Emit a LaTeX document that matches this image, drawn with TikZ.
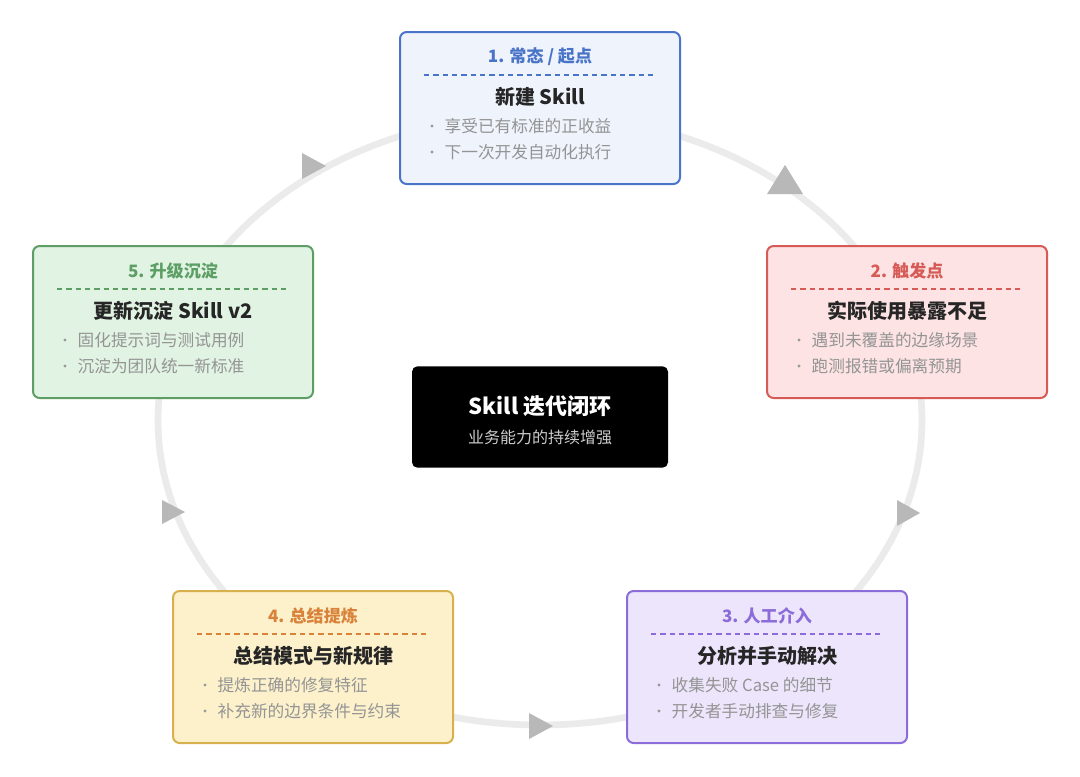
\documentclass[tikz,border=0pt]{standalone}
\usepackage{fontspec}
\setmainfont{Noto Sans CJK SC}
\definecolor{bB}{HTML}{4A74C8}\definecolor{fB}{HTML}{EEF3FC}
\definecolor{bR}{HTML}{D65A56}\definecolor{fR}{HTML}{FDE3E3}
\definecolor{bP}{HTML}{8B6CD9}\definecolor{fP}{HTML}{ECE5FB}
\definecolor{bY}{HTML}{D8B04E}\definecolor{fY}{HTML}{FDF1CC}\definecolor{hY}{HTML}{D9823A}
\definecolor{bG}{HTML}{5C9E64}\definecolor{fG}{HTML}{E1F3E3}
\begin{document}
\begin{tikzpicture}[x=0.75pt,y=-0.75pt,
  box/.style={draw=#1,line width=1.5pt,rounded corners=5pt,minimum width=210pt,minimum height=114pt,inner sep=0},
  hdr/.style={font=\fontsize{12.8}{14}\selectfont\bfseries,text=#1},
  ttl/.style={font=\fontsize{15}{17}\selectfont\bfseries,text=black!85},
  bul/.style={font=\fontsize{12.5}{14}\selectfont,text=black!42,anchor=west},
  tri/.style={fill=black!28,draw=none}]
\useasboundingbox (0,0) rectangle (1080,776);
\fill[white] (0,0) rectangle (1080,776);
\draw[black!8,line width=5pt] (540,420) ellipse [x radius=382,y radius=305];
% arrows
\fill[tri] (302,153) -- (326,166) -- (302,179) -- cycle;
\fill[tri] (767,194) -- (785,165) -- (803,194) -- cycle;
\fill[tri] (897,500) -- (920,513) -- (897,526) -- cycle;
\fill[tri] (529,713) -- (553,726) -- (529,739) -- cycle;
\fill[tri] (162,500) -- (185,512) -- (162,524) -- cycle;
\newcommand\stage[9]{%
  \node[box=#3,fill=#4] (#9) at (#1+141,#2+76) {};
  \node[hdr=#5] (#9h) at (#1+141,#2+25) {#6};
  \draw[#5,line width=0.8pt,dash pattern=on 4pt off 3pt] (#1+25,#2+43) -- (#1+257,#2+43);
  \node[ttl] (#9t) at (#1+141,#2+65) {#7};
  \foreach \t [count=\i] in {#8} {
    \fill[black!40] (#1+33,#2+68+26*\i) circle (1.6);
    \node[bul] at (#1+41,#2+68+26*\i) {\t};
  }}
\stage{399}{32}{bB}{fB}{bB}{1. 常态 / 起点}{新建 Skill}{享受已有标准的正收益,下一次开发自动化执行}{s1}
\stage{766}{246}{bR}{fR}{bR}{2. 触发点}{实际使用暴露不足}{遇到未覆盖的边缘场景,跑测报错或偏离预期}{s2}
\stage{626}{591}{bP}{fP}{bP}{3. 人工介入}{分析并手动解决}{收集失败 Case 的细节,开发者手动排查与修复}{s3}
\stage{172}{591}{bY}{fY}{hY}{4. 总结提炼}{总结模式与新规律}{提炼正确的修复特征,补充新的边界条件与约束}{s4}
\stage{32}{246}{bG}{fG}{bG}{5. 升级沉淀}{更新沉淀 Skill v2}{固化提示词与测试用例,沉淀为团队统一新标准}{s5}
\node[fill=black,rounded corners=4pt,minimum width=192pt,minimum height=76pt] (c) at (540,417) {};
\node[text=white,font=\fontsize{16.5}{18}\selectfont\bfseries] (ct) at (540,406) {Skill 迭代闭环};
\node[text=white!80!black,font=\fontsize{12}{14}\selectfont] (cs) at (540,437) {业务能力的持续增强};
\end{tikzpicture}
\end{document}
